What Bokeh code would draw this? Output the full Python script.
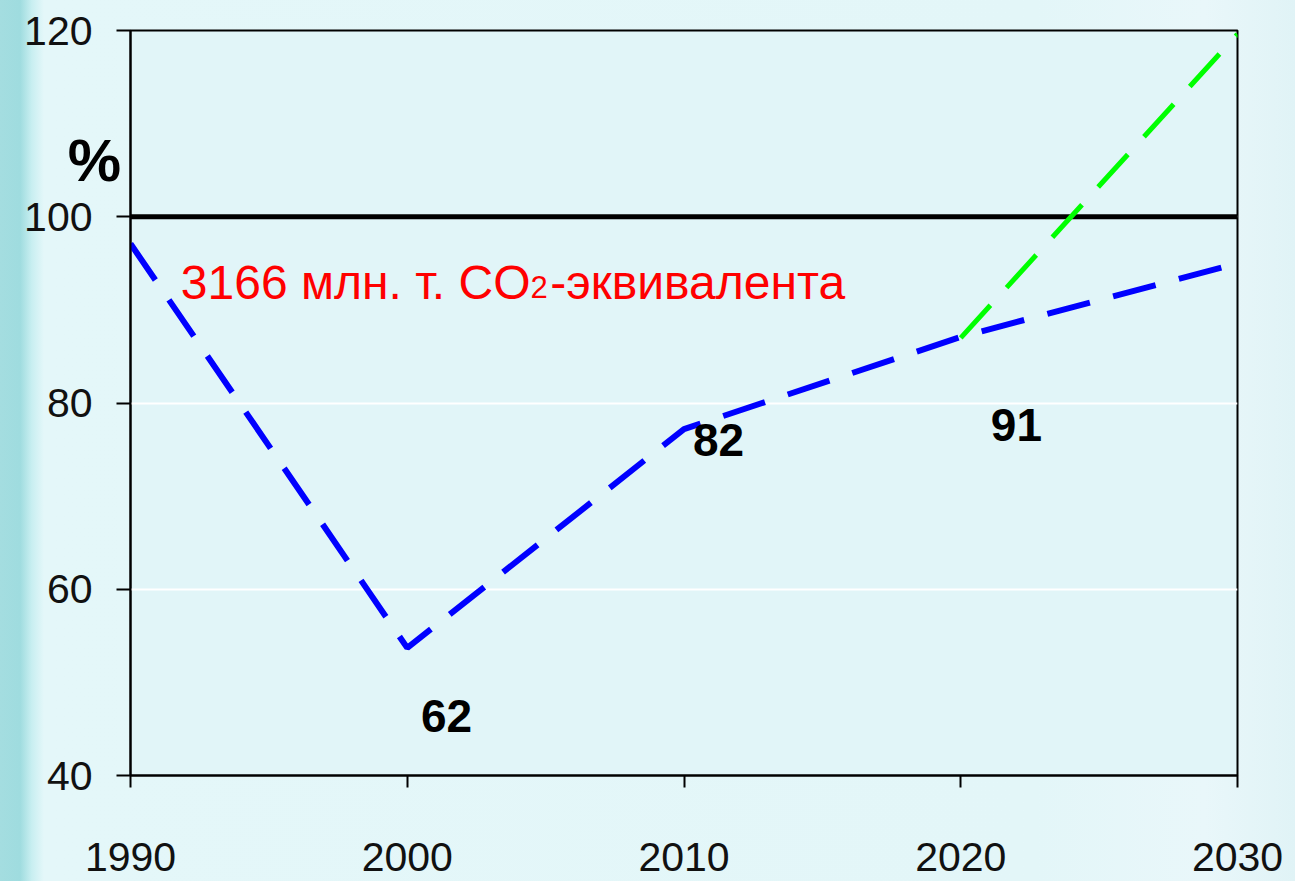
from bokeh.plotting import figure
from bokeh.models import FixedTicker, ColumnDataSource
from bokeh.core.properties import value
from bokeh.embed import file_html
from bokeh.resources import INLINE

# ---- data ----
years = [1990, 2000, 2010, 2020, 2030]
blue_values = [97.1, 53.7, 77.2, 87.1, 95.0]
green_years = [2020, 2030]
green_values = [87.0, 119.6]
base_years = [1990, 2030]
base_values = [100, 100]
y_ticks = [40, 60, 80, 100, 120]
x_ticks = [1990, 2000, 2010, 2020, 2030]
point_labels = ["62", "82", "91"]
unit_label = "%"
base_text_main = "3166 млн. т. CO"
base_text_sub = "2"
base_text_tail = "-эквивалента"

TICK_FONT = "'Liberation Sans Narrow', 'Arial Narrow', 'Liberation Sans', sans-serif"

p = figure(
    frame_width=1107, frame_height=745,
    min_border_left=130, min_border_right=58, min_border_top=30, min_border_bottom=106,
    x_range=(1990, 2030), y_range=(40, 120),
    output_backend="svg", toolbar_location=None,
)
p.styles = {"background": "linear-gradient(90deg, #a4dde0 0px, #9fdcdf 20px, #c9eff1 32px, #e4f7f9 44px, #e3f6f8 80%, #e9f7fa 93%, #e0f3f6 100%)"}
p.border_fill_alpha = 0
p.background_fill_color = "#e1f5f8"
p.outline_line_color = "black"
p.outline_line_width = 2

p.xgrid.grid_line_color = None
p.ygrid.grid_line_color = "white"
p.ygrid.grid_line_width = 2

for ax in (p.xaxis, p.yaxis):
    ax.axis_line_color = "black"
    ax.axis_line_width = 2
    ax.major_tick_line_color = "black"
    ax.major_tick_line_width = 2
    ax.major_tick_in = 0
    ax.minor_tick_line_color = None
    ax.major_label_text_font = TICK_FONT
    ax.major_label_text_font_size = "41px"
    ax.major_label_text_color = "#111111"

p.yaxis.ticker = FixedTicker(ticks=y_ticks)
p.xaxis.ticker = FixedTicker(ticks=x_ticks)
p.yaxis.major_tick_out = 14
p.xaxis.major_tick_out = 12
p.yaxis.major_label_standoff = 24
p.xaxis.major_label_standoff = 55

# "%" unit sign as the y-axis label, horizontal, just below the top of the axis
yax = p.yaxis[0]
yax.axis_label = "\n\n" + unit_label
yax.axis_label_text_font = "Liberation Sans"
yax.axis_label_text_font_style = "bold"
yax.axis_label_text_font_size = "60px"
yax.axis_label_text_line_height = 1.94
yax.axis_label_text_color = "black"
yax.axis_label_standoff = -100
props = yax.properties()
if "axis_label_orientation" in props:
    yax.axis_label_orientation = "horizontal"
if "axis_label_align" in props:
    yax.axis_label_align = "end"

# baseline 100% line
p.line(base_years, base_values, line_color="black", line_width=5, line_cap="round")
# green scenario
p.line(green_years, green_values, line_color="#00ff00", line_width=5, line_dash="44 24")
# blue series
p.line(years, blue_values, line_color="#0000ff", line_width=6, line_dash="44 24")

# point labels
lab_src = ColumnDataSource(dict(x=[2001.42, 2011.25, 2022.01], y=[46.44, 76.03, 77.69], t=point_labels))
p.text(x="x", y="y", text="t", source=lab_src, text_font=value("Liberation Sans"),
       text_font_style="bold", text_font_size="46px", text_color="black",
       text_align="center", text_baseline="middle")

# base text in red
red = "#ff0000"
p.text(x=[1991.82], y=[92.89], text=[base_text_main], text_font=value("Liberation Sans"),
       text_font_size="48px", text_color=red, text_align="left", text_baseline="alphabetic")
p.text(x=[2004.45], y=[92.45], text=[base_text_sub], text_font=value("Liberation Sans"),
       text_font_size="31px", text_color=red, text_align="left", text_baseline="alphabetic")
p.text(x=[2005.17], y=[92.89], text=[base_text_tail], text_font=value("Liberation Sans"),
       text_font_size="48px", text_color=red, text_align="left", text_baseline="alphabetic")

open("out.html", "w").write(file_html(p, INLINE))
